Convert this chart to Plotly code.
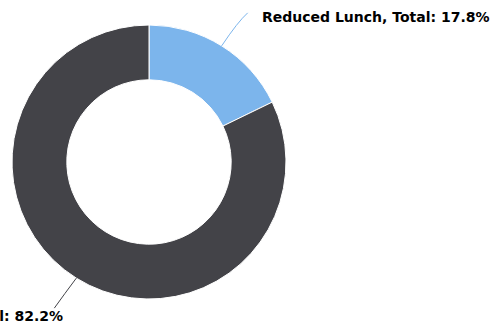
import math
import plotly.graph_objects as go

labels = ["Reduced Lunch", "Free Lunch"]
values = [17.8, 82.2]
colors = ["#7cb5ec", "#434348"]

W, H = 493, 329
CX, CY, R = 149, 162, 137
HOLE = 0.6

def px(x):
    return x / W

def py(y):
    return 1 - y / H

fig = go.Figure()
fig.add_trace(go.Pie(
    labels=labels, values=values, sort=False, direction="clockwise", rotation=0,
    hole=HOLE, textinfo="none", hoverinfo="label+percent",
    marker=dict(colors=colors, line=dict(color="#ffffff", width=1)),
    domain=dict(x=[px(CX - R), px(CX + R)], y=[py(CY + R), py(CY - R)]),
    showlegend=False,
))

total = sum(values)
cum = 0
shapes = []
annotations = []
label_layout = [
    dict(dx=26, dy=-33, cdx=16, cdy=-24, tx=260, ty=17, xanchor="left"),
    dict(dx=-22, dy=30, cdx=-12, cdy=16, tx=65, ty=316, xanchor="right"),
]
for i, (lab, v) in enumerate(zip(labels, values)):
    mid = (cum + v / 2) / total * 2 * math.pi
    cum += v
    ex = CX + R * math.sin(mid)
    ey = CY - R * math.cos(mid)
    L = label_layout[i]
    x1, y1 = ex + L["dx"], ey + L["dy"]
    qx, qy = ex + L["cdx"], ey + L["cdy"]
    path = f"M {px(ex)} {py(ey)} Q {px(qx)} {py(qy)} {px(x1)} {py(y1)}"
    shapes.append(dict(type="path", xref="paper", yref="paper", path=path,
                       line=dict(color=colors[i], width=1)))
    pct = v / total * 100
    annotations.append(dict(
        x=px(L["tx"]), y=py(L["ty"]), xref="paper", yref="paper",
        text=f"<b>{lab}, Total: {pct:.1f}%</b>", showarrow=False,
        xanchor=L["xanchor"], yanchor="middle",
        font=dict(family="DejaVu Sans", size=14, color="#000000"),
    ))

fig.update_layout(
    width=W, height=H, margin=dict(l=0, r=0, t=0, b=0),
    paper_bgcolor="#ffffff", plot_bgcolor="#ffffff",
    shapes=shapes, annotations=annotations,
)
fig.write_html("out.html", config={"displayModeBar": False},
               post_script="document.body.style.margin='0';document.body.style.overflow='hidden';")
